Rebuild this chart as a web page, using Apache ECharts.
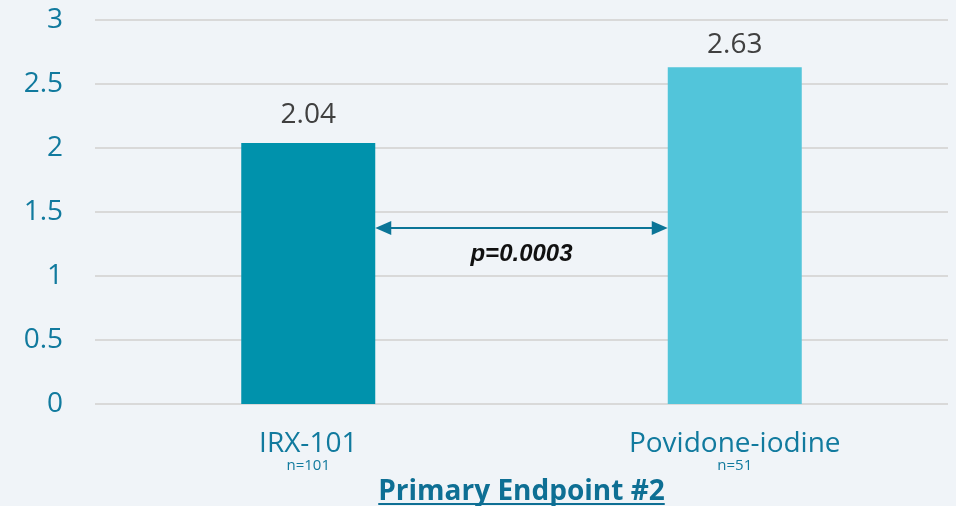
<!DOCTYPE html>
<html><head><meta charset="utf-8">
<script src="https://cdn.jsdelivr.net/npm/echarts@6/dist/echarts.min.js"></script>
<style>html,body{margin:0;padding:0;background:#F0F4F8;}#c{width:956px;height:506px;}</style>
</head><body><div id="c"></div>
<script>
const categories = ['IRX-101', 'Povidone-iodine'];
const sampleSizes = ['n=101', 'n=51'];
const values = [2.04, 2.63];
const barColors = ['#0092AC', '#52C5DA'];
const yTicks = [0, 0.5, 1, 1.5, 2, 2.5, 3];
const pValueText = 'p=0.0003';
const arrowLevel = 1.375;
const titleText = 'Primary Endpoint #2';

const FONT = '"Open Sans", sans-serif';
const chart = echarts.init(document.getElementById('c'), null, {renderer: 'canvas'});
const BAR_W = 134;
const labelGaps = [14, 8];
chart.setOption({
  backgroundColor: '#F0F4F8',
  animation: false,
  grid: {left: 95, right: 8, top: 20, bottom: 102},
  xAxis: {
    type: 'category', data: categories,
    axisLine: {show: false}, axisTick: {show: false},
    axisLabel: {
      margin: 25, color: '#117A9E', fontFamily: FONT, fontSize: 28, lineHeight: 30,
      formatter: (v, i) => v + '\n{n|' + sampleSizes[i] + '}',
      rich: {n: {fontSize: 15, color: '#117A9E', fontFamily: FONT, lineHeight: 16, padding: [-3,0,0,0]}}
    }
  },
  yAxis: {
    type: 'value', min: yTicks[0], max: yTicks[yTicks.length-1], interval: 0.5,
    axisLine: {show: false}, axisTick: {show: false},
    axisLabel: {margin: 32, color: '#117A9E', fontFamily: FONT, fontSize: 28},
    splitLine: {lineStyle: {color: '#D9D9D9', width: 2}}
  },
  series: [{
    type: 'bar', barWidth: BAR_W,
    data: values.map((v, i) => ({value: v, itemStyle: {color: barColors[i]}, label: {distance: labelGaps[i]}})),
    label: {show: true, position: 'top', color: '#404040', fontFamily: FONT, fontSize: 28,
      formatter: p => p.value.toFixed(2)}
  }]
});

const p0 = chart.convertToPixel({xAxisIndex: 0, yAxisIndex: 0}, [0, arrowLevel]);
const p1 = chart.convertToPixel({xAxisIndex: 0, yAxisIndex: 0}, [1, arrowLevel]);
const x0 = p0[0] + BAR_W / 2, x1 = p1[0] - BAR_W / 2, ay = p0[1];
const ah = 16, aw = 7;
const TFONT = 'bold 28px "Open Sans", sans-serif';
const tw = echarts.format.getTextRect ? echarts.format.getTextRect(titleText, TFONT).width : 290;
const cx = (95 + 948) / 2;
chart.setOption({
  graphic: [
    {type: 'line', shape: {x1: x0 + ah - 2, y1: ay, x2: x1 - ah + 2, y2: ay}, style: {stroke: '#0B7597', lineWidth: 2}},
    {type: 'polygon', shape: {points: [[x0, ay], [x0 + ah, ay - aw], [x0 + ah, ay + aw]]}, style: {fill: '#0B7597'}},
    {type: 'polygon', shape: {points: [[x1, ay], [x1 - ah, ay - aw], [x1 - ah, ay + aw]]}, style: {fill: '#0B7597'}},
    {type: 'text', x: (x0 + x1) / 2, y: ay + 26, style: {text: pValueText, fill: '#111', font: 'italic bold 24px "Liberation Sans", Arial, sans-serif', align: 'center', verticalAlign: 'middle'}},
    {type: 'text', x: cx, y: 492, style: {text: titleText, fill: '#0E6F94', font: TFONT, align: 'center', verticalAlign: 'middle'}},
    {type: 'line', shape: {x1: cx - tw / 2, y1: 504, x2: cx + tw / 2, y2: 504}, style: {stroke: '#0E6F94', lineWidth: 2}}
  ]
});
</script></body></html>
